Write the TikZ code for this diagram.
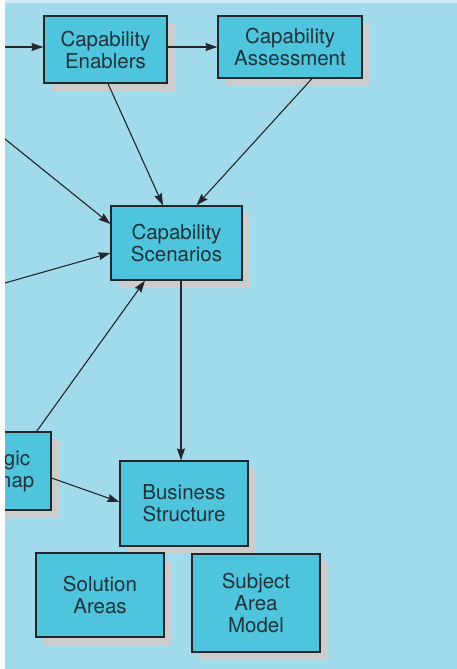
\documentclass[tikz,border=0pt]{standalone}
\usepackage{fontspec}
\setmainfont{TeX Gyre Heros}
\usepackage{tikz}
\usetikzlibrary{
    arrows.meta,
    shapes,
    shadows,
    calc
}
\definecolor{PageBlue}{RGB}{161,218,234}
\definecolor{TopBlue}{RGB}{206,236,244}
\definecolor{BoxCyan}{RGB}{78,197,221}
\definecolor{ShadowGray}{RGB}{204,204,204}
\definecolor{InkGray}{RGB}{35,38,42}
\definecolor{TextSlate}{RGB}{32,50,58}

\begin{document}
\begin{tikzpicture}[
            x=1pt, y=-1pt,
            >={Stealth[length=12pt, width=8pt, inset=1.5pt]},
            line width=1.1pt,
            block/.style={rectangle, draw=InkGray, line width=1.2pt, fill=BoxCyan, align=center, text=TextSlate,
                font=\fontsize{20.5}{22}\selectfont,
                drop shadow={shadow xshift=8pt, shadow yshift=-8pt, fill=ShadowGray, opacity=1}},
            link/.style={->, draw=InkGray},
        ]
        \useasboundingbox (0,0) rectangle (457,669);

        % ===== Page =====
        \fill[white] (0,0) rectangle (457,669);
        \fill[PageBlue] (5,0) rectangle (457,669);
        \fill[TopBlue] (5,0) rectangle (457,3);

        \begin{scope}
        \clip (5,0) rectangle (457,669);

        % ===== Boxes =====
        \node[block, minimum width=123pt, minimum height=67pt] (enab) at (105.5,49.5) {Capability\\Enablers};
        \node[block, minimum width=144pt, minimum height=62pt] (assess) at (290,47) {Capability\\Assessment};
        \node[block, minimum width=131pt, minimum height=74pt] (scen) at (176.5,243) {Capability\\Scenarios};
        \node[block, minimum width=122pt, minimum height=78pt] (strat) at (-10,471) {Strategic\\Roadmap};
        \node[block, minimum width=128pt, minimum height=85pt] (bus) at (184,503.5) {Business\\Structure};
        \node[block, minimum width=128pt, minimum height=84pt] (sol) at (100,595) {Solution\\Areas};
        \node[block, minimum width=128pt, minimum height=98pt] (subj) at (256,603) {Subject\\Area\\Model};

        % free ends at the left edge
        \coordinate (inA) at (5,47);
        \coordinate (inB) at (5,139);
        \coordinate (inC) at (5,283);

        % ===== Links =====
        \draw[link] (inA) -- ([yshift=2.5pt]enab.west);
        \draw[link] ([yshift=2.5pt]enab.east) -- (assess.west);
        \draw[link] ([xshift=2.5pt]enab.south) -- ([xshift=-13.5pt]scen.north);
        \draw[link] ([xshift=22pt]assess.south) -- ([xshift=20pt]scen.north);
        \draw[link] (inB) -- ([yshift=19pt]scen.west);
        \draw[link] (inC) -- ([yshift=-10pt]scen.west);
        \draw[link] ([xshift=-15pt]strat.north east) -- ([xshift=-31.5pt]scen.south);
        \draw[link] ([xshift=4.5pt]scen.south) -- ([xshift=-3pt]bus.north);
        \draw[link] ([yshift=-7pt]strat.east) -- ([yshift=1.5pt]bus.west);
        \end{scope}
        \end{tikzpicture}
\end{document}
